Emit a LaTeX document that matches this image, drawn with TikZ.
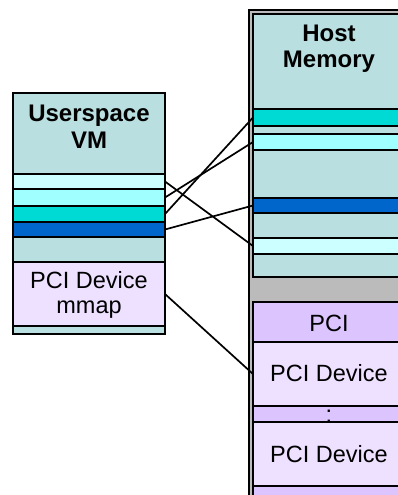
\documentclass[tikz,border=0pt]{standalone}
\usepackage{fontspec}
\setmainfont{Liberation Sans}
\definecolor{teal1}{HTML}{B9DFE1}
\definecolor{cyanA}{HTML}{CCFFFF}
\definecolor{cyanB}{HTML}{A0FFFF}
\definecolor{turq}{HTML}{00DAD4}
\definecolor{blueC}{HTML}{0066CC}
\definecolor{lav}{HTML}{EEE0FF}
\definecolor{purp}{HTML}{DCC4FF}
\definecolor{grayF}{HTML}{BBBBBB}
\begin{document}
\begin{tikzpicture}[x=1pt,y=-1pt,
  band/.style={draw=black,line width=1.9pt,rectangle,inner sep=0pt,outer sep=0pt,anchor=north west},
  lbl/.style={font=\fontsize{23.5}{26}\selectfont,anchor=base,inner sep=0pt},
  hdr/.style={font=\fontsize{24}{26}\selectfont\bfseries,anchor=base,inner sep=0pt},
  conn/.style={line width=1.7pt,black}]
\useasboundingbox (0,0) rectangle (398,495);
\clip (0,0) rectangle (398,495);
% left box
\node[band,fill=teal1,minimum width=152pt,minimum height=81pt] (L0) at (13,93) {};
\node[band,fill=cyanA,minimum width=152pt,minimum height=15pt] (L1) at (13,174) {};
\node[band,fill=cyanB,minimum width=152pt,minimum height=17pt] (L2) at (13,189) {};
\node[band,fill=turq,minimum width=152pt,minimum height=16pt] (L3) at (13,206) {};
\node[band,fill=blueC,minimum width=152pt,minimum height=15pt] (L4) at (13,222) {};
\node[band,fill=teal1,minimum width=152pt,minimum height=25pt] (L5) at (13,237) {};
\node[band,fill=lav,minimum width=152pt,minimum height=64pt] (L6) at (13,262) {};
\node[band,fill=teal1,minimum width=152pt,minimum height=8pt] (L7) at (13,326) {};
\node[hdr] (t1) at (89,121.5) {Userspace};
\node[hdr] (t2) at (89,148) {VM};
\node[lbl] (t3) at (89,288) {PCI Device};
\node[lbl] (t4) at (89,313) {mmap};
% right frame
\node[band,fill=grayF,line width=1.5pt,minimum width=170pt,minimum height=520pt] (F) at (249,10) {};
% host memory
\node[band,fill=teal1,minimum width=167pt,minimum height=95pt] (H0) at (253,14) {};
\node[band,fill=turq,minimum width=167pt,minimum height=17pt] (H1) at (253,109) {};
\node[band,fill=teal1,minimum width=167pt,minimum height=8pt] (H2) at (253,126) {};
\node[band,fill=cyanB,minimum width=167pt,minimum height=16pt] (H3) at (253,134) {};
\node[band,fill=teal1,minimum width=167pt,minimum height=48pt] (H4) at (253,150) {};
\node[band,fill=blueC,minimum width=167pt,minimum height=15pt] (H5) at (253,198) {};
\node[band,fill=teal1,minimum width=167pt,minimum height=25pt] (H6) at (253,213) {};
\node[band,fill=cyanA,minimum width=167pt,minimum height=16pt] (H7) at (253,238) {};
\node[band,fill=teal1,minimum width=167pt,minimum height=23pt] (H8) at (253,254) {};
\node[hdr] (t5) at (329,41.5) {Host};
\node[hdr] (t6) at (329,67) {Memory};
% PCI
\node[band,fill=purp,minimum width=167pt,minimum height=40pt] (P0) at (253,302) {};
\node[band,fill=lav,minimum width=167pt,minimum height=64pt] (P1) at (253,342) {};
\node[band,fill=purp,minimum width=167pt,minimum height=16pt] (P2) at (253,406) {};
\node[lbl] (t7) at (329,422.5) {:};
\node[band,fill=lav,minimum width=167pt,minimum height=64pt] (P3) at (253,422) {};
\node[band,fill=purp,minimum width=167pt,minimum height=40pt] (P4) at (253,486) {};
\node[lbl] (t8) at (329,331.5) {PCI};
\node[lbl] (t9) at (329,381.5) {PCI Device};
\node[lbl] (t10) at (329,462.5) {PCI Device};
% connectors
\draw[conn] (L1.east) -- (H7.west);
\draw[conn] (L2.east) -- (H3.west);
\draw[conn] (L3.east) -- (H1.west);
\draw[conn] (L4.east) -- (H5.west);
\draw[conn] (L6.east) -- (P1.west);
\end{tikzpicture}
\end{document}
